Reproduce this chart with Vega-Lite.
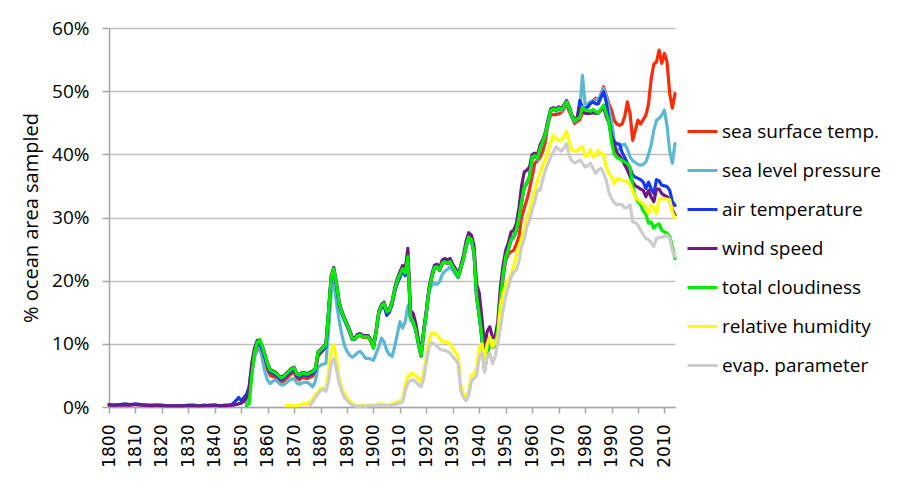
{
  "$schema": "https://vega.github.io/schema/vega-lite/v6.json",
  "autosize": {"type": "none"},
  "padding": {"left": 109, "top": 28, "right": 225, "bottom": 88},
  "width": 566,
  "height": 379,
  "background": "white",
  "config": {"view": {"stroke": null}, "font": "Open Sans"},
  "data": {"values": [
    {"year":1800,"at":0.4,"ws":0.3},{"year":1802,"at":0.3,"ws":0.3},{"year":1804,"at":0.4,"ws":0.3},{"year":1806,"at":0.5,"ws":0.3},{"year":1808,"at":0.4,"ws":0.3},{"year":1810,"at":0.5,"ws":0.4},{"year":1812,"at":0.4,"ws":0.3},{"year":1814,"at":0.3,"ws":0.3},{"year":1816,"at":0.3,"ws":0.2},{"year":1818,"at":0.3,"ws":0.3},{"year":1820,"at":0.3,"ws":0.2},{"year":1822,"at":0.2,"ws":0.2},{"year":1824,"at":0.2,"ws":0.2},{"year":1826,"at":0.2,"ws":0.2},{"year":1828,"at":0.2,"ws":0.2},{"year":1830,"at":0.3,"ws":0.2},{"year":1832,"at":0.3,"ws":0.2},{"year":1834,"at":0.2,"ws":0.2},{"year":1836,"at":0.3,"ws":0.2},{"year":1838,"at":0.2,"ws":0.3},{"year":1840,"at":0.3,"ws":0.3},{"year":1842,"at":0.2,"ws":0.2},{"year":1844,"at":0.3,"ws":0.2},{"year":1846,"at":0.3,"ws":0.3},{"year":1847,"at":0.6,"ws":0.3},{"year":1848,"at":1.0,"ws":0.4},{"year":1849,"at":1.5,"ws":0.5},{"year":1850,"at":1.0,"ws":0.6},{"year":1851,"at":1.5,"ws":0.9},
    {"year":1852,"sst":0.5,"slp":0.3,"at":2.0,"ws":1.5,"tc":0.2},
    {"year":1853,"sst":2,"slp":2,"at":3.2,"ws":3,"tc":0.5},
    {"year":1854,"sst":5.5,"slp":5.5,"at":6.5,"ws":7,"tc":5},
    {"year":1855,"sst":8,"slp":8,"at":8.8,"ws":9.3,"tc":8.5},
    {"year":1856,"sst":9,"slp":9.3,"at":9.8,"ws":10.5,"tc":10.2},
    {"year":1857,"sst":9.2,"slp":9.5,"at":10,"ws":10.6,"tc":10.7},
    {"year":1858,"sst":8.3,"slp":7.5,"at":9,"ws":9.6,"tc":9.5},
    {"year":1859,"sst":7,"slp":5.5,"at":7.7,"ws":8.3,"tc":8.2},
    {"year":1860,"sst":5.8,"slp":4.2,"at":6.4,"ws":6.9,"tc":6.8},
    {"year":1861,"sst":5,"slp":3.7,"at":5.5,"ws":5.9,"tc":5.8},
    {"year":1862,"sst":4.8,"slp":4.1,"at":5.3,"ws":5.7,"tc":5.6},
    {"year":1863,"sst":4.7,"slp":4.3,"at":5.1,"ws":5.5,"tc":5.4},
    {"year":1864,"sst":4.3,"slp":3.9,"at":4.7,"ws":5.1,"tc":5.0},
    {"year":1865,"sst":3.9,"slp":3.5,"at":4.3,"ws":4.7,"tc":4.6},
    {"year":1866,"sst":4.1,"slp":3.5,"at":4.5,"ws":4.9,"tc":4.8},
    {"year":1867,"sst":4.5,"slp":3.8,"at":4.9,"ws":5.3,"tc":5.2,"rh":0.2},
    {"year":1868,"sst":4.9,"slp":4.2,"at":5.3,"ws":5.7,"tc":5.6,"rh":0.3},
    {"year":1869,"sst":5.3,"slp":4.4,"at":5.7,"ws":6.1,"tc":6.0,"rh":0.2},
    {"year":1870,"sst":5.5,"slp":4.5,"at":5.9,"ws":6.3,"tc":6.2,"rh":0.2},
    {"year":1871,"sst":4.5,"slp":3.8,"at":4.9,"ws":5.3,"tc":5.2,"rh":0.2},
    {"year":1872,"sst":4.3,"slp":3.6,"at":4.7,"ws":5.1,"tc":5.0,"rh":0.3},
    {"year":1873,"sst":4.7,"slp":3.8,"at":5.1,"ws":5.5,"tc":5.4,"rh":0.5},
    {"year":1874,"sst":4.6,"slp":3.9,"at":5.0,"ws":5.4,"tc":5.3,"rh":0.5},
    {"year":1875,"sst":4.5,"slp":3.9,"at":4.9,"ws":5.3,"tc":5.2,"rh":0.6},
    {"year":1876,"sst":4.7,"slp":3.6,"at":5.1,"ws":5.5,"tc":5.4,"rh":0.8,"ev":0.3},
    {"year":1877,"sst":4.9,"slp":3.2,"at":5.3,"ws":5.7,"tc":5.6,"rh":1.2,"ev":0.8},
    {"year":1878,"sst":5.3,"slp":4.0,"at":5.7,"ws":6.1,"tc":6.0,"rh":2.0,"ev":1.5},
    {"year":1879,"sst":8.0,"slp":6.3,"at":8.3,"ws":8.7,"tc":8.6,"rh":2.3,"ev":2.0},
    {"year":1880,"sst":8.5,"slp":6.6,"at":8.7,"ws":9.1,"tc":9.0,"rh":3.0,"ev":2.6},
    {"year":1881,"sst":9.0,"slp":6.8,"at":9.1,"ws":9.5,"tc":9.4,"rh":3.0,"ev":2.8},
    {"year":1882,"sst":9.4,"slp":6.9,"at":9.5,"ws":9.9,"tc":9.8,"rh":2.8,"ev":2.5},
    {"year":1883,"sst":14.8,"slp":12,"at":14.8,"ws":15.2,"tc":15,"rh":5.5,"ev":4},
    {"year":1884,"sst":20.3,"slp":18,"at":20.3,"ws":20.8,"tc":20.5,"rh":9,"ev":6.8},
    {"year":1885,"sst":21.8,"slp":20.1,"at":21.6,"ws":22.1,"tc":21.9,"rh":9.8,"ev":7.7},
    {"year":1886,"sst":19.4,"slp":16.5,"at":19.2,"ws":19.7,"tc":19.5,"rh":7.5,"ev":6},
    {"year":1887,"sst":16.4,"slp":13.8,"at":16.2,"ws":16.7,"tc":16.5,"rh":4.5,"ev":3.8},
    {"year":1888,"sst":14.9,"slp":11.5,"at":14.8,"ws":15.2,"tc":15,"rh":3,"ev":2.5},
    {"year":1889,"sst":13.9,"slp":9.8,"at":13.8,"ws":14.2,"tc":14,"rh":2,"ev":1.5},
    {"year":1890,"sst":12.9,"slp":8.8,"at":12.8,"ws":13.2,"tc":13,"rh":1.5,"ev":1},
    {"year":1891,"sst":11.9,"slp":8.2,"at":11.8,"ws":12.2,"tc":12,"rh":1,"ev":0.6},
    {"year":1892,"sst":10.7,"slp":7.9,"at":10.7,"ws":11,"tc":10.8,"rh":0.6,"ev":0.3},
    {"year":1893,"sst":10.7,"slp":8.2,"at":10.8,"ws":11,"tc":10.8,"rh":0.3,"ev":0.2},
    {"year":1894,"sst":11.2,"slp":8.6,"at":11.4,"ws":11.5,"tc":11.3,"rh":0.2,"ev":0.1},
    {"year":1895,"sst":11.3,"slp":8.8,"at":11.6,"ws":11.6,"tc":11.4,"rh":0.2,"ev":0.1},
    {"year":1896,"sst":11.0,"slp":8.3,"at":11.3,"ws":11.3,"tc":11.1,"rh":0.3,"ev":0.2},
    {"year":1897,"sst":11.0,"slp":7.7,"at":11.2,"ws":11.3,"tc":11.1,"rh":0.2,"ev":0.1},
    {"year":1898,"sst":11.0,"slp":7.7,"at":11.2,"ws":11.3,"tc":11.1,"rh":0.3,"ev":0.2},
    {"year":1899,"sst":10.4,"slp":7.6,"at":10.6,"ws":10.7,"tc":10.5,"rh":0.3,"ev":0.2},
    {"year":1900,"sst":9.3,"slp":7.4,"at":9.5,"ws":9.6,"tc":9.4,"rh":0.3,"ev":0.2},
    {"year":1901,"sst":11.8,"slp":8.5,"at":12,"ws":12.2,"tc":12,"rh":0.3,"ev":0.2},
    {"year":1902,"sst":14.8,"slp":9.5,"at":14.8,"ws":15.2,"tc":15,"rh":0.5,"ev":0.3},
    {"year":1903,"sst":15.8,"slp":10.9,"at":15.8,"ws":16.2,"tc":16,"rh":0.5,"ev":0.3},
    {"year":1904,"sst":16.2,"slp":10.3,"at":16,"ws":16.6,"tc":16.4,"rh":0.4,"ev":0.2},
    {"year":1905,"sst":14.9,"slp":9,"at":14.5,"ws":15.3,"tc":15.1,"rh":0.3,"ev":0.2},
    {"year":1906,"sst":15.1,"slp":8.3,"at":15,"ws":15.5,"tc":15.3,"rh":0.3,"ev":0.2},
    {"year":1907,"sst":16.3,"slp":8,"at":16.2,"ws":16.7,"tc":16.5,"rh":0.5,"ev":0.3},
    {"year":1908,"sst":18.3,"slp":9.5,"at":18.2,"ws":18.8,"tc":18.5,"rh":0.6,"ev":0.4},
    {"year":1909,"sst":19.8,"slp":11.5,"at":19.6,"ws":20.3,"tc":20,"rh":0.8,"ev":0.5},
    {"year":1910,"sst":20.8,"slp":13.5,"at":20.5,"ws":21.4,"tc":21,"rh":1,"ev":0.6},
    {"year":1911,"sst":21.7,"slp":12.5,"at":21.5,"ws":22.4,"tc":21.9,"rh":1.2,"ev":0.8},
    {"year":1912,"sst":21,"slp":13.5,"at":20.8,"ws":21.8,"tc":21.2,"rh":3.5,"ev":2.5},
    {"year":1913,"sst":23.6,"slp":16,"at":23.6,"ws":25.1,"tc":23.8,"rh":4.8,"ev":3.8},
    {"year":1914,"sst":14.2,"slp":13.8,"at":14.3,"ws":15.3,"tc":14.3,"rh":5.2,"ev":4.2},
    {"year":1915,"sst":13.4,"slp":13.2,"at":13.5,"ws":14.8,"tc":13.5,"rh":5.3,"ev":4.3},
    {"year":1916,"sst":12.1,"slp":12,"at":12.2,"ws":13.2,"tc":12.2,"rh":4.9,"ev":4},
    {"year":1917,"sst":9.9,"slp":9.9,"at":10,"ws":10.7,"tc":10,"rh":4.5,"ev":3.5},
    {"year":1918,"sst":8.1,"slp":8.1,"at":8.1,"ws":8.5,"tc":8.1,"rh":4,"ev":3.2},
    {"year":1919,"sst":11.9,"slp":11.8,"at":12,"ws":12.3,"tc":12,"rh":5.5,"ev":4.5},
    {"year":1920,"sst":14.9,"slp":14.8,"at":15,"ws":15.4,"tc":15,"rh":8,"ev":7},
    {"year":1921,"sst":18.4,"slp":18.3,"at":18.5,"ws":18.9,"tc":18.5,"rh":10.5,"ev":9.5},
    {"year":1922,"sst":20.4,"slp":19.3,"at":20.5,"ws":20.9,"tc":20.5,"rh":11.7,"ev":10.2},
    {"year":1923,"sst":21.9,"slp":19.6,"at":22,"ws":22.4,"tc":22.1,"rh":11.6,"ev":10},
    {"year":1924,"sst":22.1,"slp":19.4,"at":22.2,"ws":22.6,"tc":22.2,"rh":11.5,"ev":9.6},
    {"year":1925,"sst":21.6,"slp":19.8,"at":21.7,"ws":22.1,"tc":21.7,"rh":10.8,"ev":9.2},
    {"year":1926,"sst":22.7,"slp":21,"at":22.8,"ws":23.3,"tc":22.8,"rh":10.3,"ev":9},
    {"year":1927,"sst":22.9,"slp":21.5,"at":23,"ws":23.5,"tc":23,"rh":10.3,"ev":9},
    {"year":1928,"sst":22.7,"slp":21.8,"at":22.8,"ws":23.3,"tc":22.8,"rh":10.3,"ev":8.8},
    {"year":1929,"sst":22.9,"slp":22.2,"at":23,"ws":23.5,"tc":23,"rh":10,"ev":8.5},
    {"year":1930,"sst":22.1,"slp":21.6,"at":22.2,"ws":22.6,"tc":22.2,"rh":9.3,"ev":8},
    {"year":1931,"sst":21.4,"slp":21,"at":21.5,"ws":21.9,"tc":21.5,"rh":8.7,"ev":7.5},
    {"year":1932,"sst":20.5,"slp":20.5,"at":20.6,"ws":21,"tc":20.6,"rh":8,"ev":6.8},
    {"year":1933,"sst":21.9,"slp":21.8,"at":22,"ws":22.4,"tc":22,"rh":3.5,"ev":2.5},
    {"year":1934,"sst":23.4,"slp":23.3,"at":23.5,"ws":24,"tc":23.5,"rh":2,"ev":1.5},
    {"year":1935,"sst":25.4,"slp":25.3,"at":25.5,"ws":26.2,"tc":25.5,"rh":1.4,"ev":1},
    {"year":1936,"sst":26.8,"slp":26.7,"at":26.9,"ws":27.6,"tc":26.9,"rh":2.5,"ev":1.8},
    {"year":1937,"sst":26.4,"slp":26.3,"at":26.5,"ws":27.2,"tc":26.5,"rh":5,"ev":4},
    {"year":1938,"sst":24.4,"slp":24.3,"at":24.5,"ws":25.6,"tc":24.5,"rh":5.3,"ev":4.5},
    {"year":1939,"sst":17.4,"slp":17.3,"at":17.5,"ws":19.5,"tc":17.5,"rh":6,"ev":5},
    {"year":1940,"sst":14.4,"slp":14.3,"at":14.5,"ws":18,"tc":14.5,"rh":9.5,"ev":7.8},
    {"year":1941,"sst":10.9,"slp":10.8,"at":11,"ws":14,"tc":11,"rh":10,"ev":8.5},
    {"year":1942,"sst":6,"slp":6,"at":6,"ws":9.5,"tc":6,"rh":7.5,"ev":5.5},
    {"year":1943,"sst":8.4,"slp":8.4,"at":8.5,"ws":12,"tc":8.5,"rh":10,"ev":8},
    {"year":1944,"sst":10.4,"slp":10.4,"at":10.5,"ws":12.7,"tc":10.5,"rh":11.1,"ev":8.5},
    {"year":1945,"sst":9.4,"slp":9.4,"at":9.5,"ws":11,"tc":9.5,"rh":9.5,"ev":6.9},
    {"year":1946,"sst":9.7,"slp":9.7,"at":9.8,"ws":11.1,"tc":9.8,"rh":10.2,"ev":8},
    {"year":1947,"sst":12,"slp":12,"at":12.2,"ws":13.5,"tc":12.2,"rh":11.1,"ev":10.1},
    {"year":1948,"sst":16.5,"slp":16.8,"at":17,"ws":19,"tc":17,"rh":15.9,"ev":12.5},
    {"year":1949,"sst":20.5,"slp":20.8,"at":21,"ws":22.5,"tc":21,"rh":18,"ev":15.3},
    {"year":1950,"sst":23.2,"slp":23.6,"at":23.8,"ws":24.8,"tc":23.8,"rh":19.3,"ev":17.5},
    {"year":1951,"sst":24.2,"slp":24.8,"at":25,"ws":26,"tc":25,"rh":20.1,"ev":19},
    {"year":1952,"sst":24.6,"slp":26.3,"at":26.5,"ws":27.7,"tc":26.5,"rh":21,"ev":20.5},
    {"year":1953,"sst":24.8,"slp":26.8,"at":27,"ws":28,"tc":27,"rh":22.2,"ev":21.3},
    {"year":1954,"sst":25.8,"slp":27.8,"at":28,"ws":29,"tc":28,"rh":24,"ev":21.7},
    {"year":1955,"sst":27,"slp":29.8,"at":30,"ws":31.5,"tc":30,"rh":25.4,"ev":23},
    {"year":1956,"sst":30,"slp":32.3,"at":32.5,"ws":35,"tc":32.5,"rh":26.7,"ev":25.4},
    {"year":1957,"sst":31.5,"slp":34.7,"at":34.9,"ws":37.2,"tc":34.9,"rh":28,"ev":26.5},
    {"year":1958,"sst":32.8,"slp":35.3,"at":35.5,"ws":37.5,"tc":35.5,"rh":29.8,"ev":28.5},
    {"year":1959,"sst":34.5,"slp":36.3,"at":36.5,"ws":38,"tc":36.5,"rh":31.2,"ev":29.5},
    {"year":1960,"sst":36.5,"slp":39.4,"at":39.6,"ws":40,"tc":39.6,"rh":32.8,"ev":31.2},
    {"year":1961,"sst":38.6,"slp":39.6,"at":39.8,"ws":40.2,"tc":39.8,"rh":34.3,"ev":32.5},
    {"year":1962,"sst":39,"slp":39.2,"at":39.4,"ws":40,"tc":39.4,"rh":35.8,"ev":34.3},
    {"year":1963,"sst":39.5,"slp":40.8,"at":41,"ws":41.5,"tc":41,"rh":37,"ev":34.3},
    {"year":1964,"sst":40.5,"slp":41.8,"at":42,"ws":42.3,"tc":42,"rh":38.2,"ev":36},
    {"year":1965,"sst":42,"slp":43.1,"at":43.3,"ws":43.5,"tc":43.3,"rh":39.1,"ev":37.5},
    {"year":1966,"sst":45,"slp":44.8,"at":45,"ws":45.5,"tc":45,"rh":40.5,"ev":38.5},
    {"year":1967,"sst":46.2,"slp":46.8,"at":47,"ws":47.2,"tc":47,"rh":41.8,"ev":39.6},
    {"year":1968,"sst":46.3,"slp":47,"at":47.2,"ws":47.4,"tc":47.2,"rh":43,"ev":40.3},
    {"year":1969,"sst":46.3,"slp":46.8,"at":47,"ws":47.2,"tc":47,"rh":42.5,"ev":41.2},
    {"year":1970,"sst":46.4,"slp":47.1,"at":47.3,"ws":47.5,"tc":47.3,"rh":42.2,"ev":40.8},
    {"year":1971,"sst":46.6,"slp":46.9,"at":47.1,"ws":47.3,"tc":47.1,"rh":42.2,"ev":40.5},
    {"year":1972,"sst":47.2,"slp":47.4,"at":47.6,"ws":47.8,"tc":47.6,"rh":42.8,"ev":41},
    {"year":1973,"sst":48,"slp":48.1,"at":48.3,"ws":48.5,"tc":48.3,"rh":43.6,"ev":41.7},
    {"year":1974,"sst":46.8,"slp":47.3,"at":47.5,"ws":47.6,"tc":47.5,"rh":42,"ev":39.8},
    {"year":1975,"sst":45.9,"slp":45.8,"at":46,"ws":46.2,"tc":46,"rh":40.7,"ev":39},
    {"year":1976,"sst":44.9,"slp":45.2,"at":45.4,"ws":45.6,"tc":45.4,"rh":40.5,"ev":38.6},
    {"year":1977,"sst":45.2,"slp":45.5,"at":45.6,"ws":45.8,"tc":45.6,"rh":40.5,"ev":38.8},
    {"year":1978,"sst":45.5,"slp":47,"at":48.5,"ws":47.3,"tc":45.8,"rh":41,"ev":39.1},
    {"year":1979,"sst":46.5,"slp":52.5,"at":47.5,"ws":46.8,"tc":47.5,"rh":41.2,"ev":38.6},
    {"year":1980,"sst":47.1,"slp":48,"at":47.3,"ws":46.5,"tc":47,"rh":39.8,"ev":38},
    {"year":1981,"sst":47.5,"slp":48,"at":47.5,"ws":46.5,"tc":47,"rh":39.8,"ev":38.2},
    {"year":1982,"sst":48.3,"slp":48.3,"at":48,"ws":46.5,"tc":46.8,"rh":40.7,"ev":38.6},
    {"year":1983,"sst":48.5,"slp":48.4,"at":48.3,"ws":46.6,"tc":47.1,"rh":39.6,"ev":37.8},
    {"year":1984,"sst":48.9,"slp":48.6,"at":48,"ws":46.5,"tc":46.8,"rh":39.8,"ev":37},
    {"year":1985,"sst":48.5,"slp":48.9,"at":48,"ws":46.5,"tc":46.5,"rh":40.6,"ev":37.5},
    {"year":1986,"sst":49.5,"slp":49.3,"at":49,"ws":47,"tc":47.2,"rh":40.2,"ev":37.8},
    {"year":1987,"sst":50.7,"slp":50.5,"at":49.9,"ws":47.5,"tc":47.8,"rh":39.9,"ev":37},
    {"year":1988,"sst":49.4,"slp":49.2,"at":48.3,"ws":46,"tc":46.5,"rh":38,"ev":35.9},
    {"year":1989,"sst":48,"slp":47.3,"at":45.4,"ws":45,"tc":45.1,"rh":37,"ev":34},
    {"year":1990,"sst":47,"slp":45.4,"at":43,"ws":42.8,"tc":42,"rh":36.4,"ev":33},
    {"year":1991,"sst":45.4,"slp":42.2,"at":42,"ws":41.5,"tc":40,"rh":35.4,"ev":32.4},
    {"year":1992,"sst":44.8,"slp":40.5,"at":41.7,"ws":40.3,"tc":39.5,"rh":36.1,"ev":32},
    {"year":1993,"sst":44.6,"slp":40.8,"at":41.6,"ws":39.8,"tc":39.3,"rh":36.1,"ev":32.1},
    {"year":1994,"sst":44.8,"slp":41.5,"at":40.3,"ws":39.2,"tc":39,"rh":35.9,"ev":32},
    {"year":1995,"sst":46,"slp":41.6,"at":39.5,"ws":38.3,"tc":38.8,"rh":35.8,"ev":31.5},
    {"year":1996,"sst":48.3,"slp":40.8,"at":38.6,"ws":37.5,"tc":38.5,"rh":35.7,"ev":31.6},
    {"year":1997,"sst":46.5,"slp":39.6,"at":37.8,"ws":36.5,"tc":38,"rh":35.2,"ev":32},
    {"year":1998,"sst":42.2,"slp":39,"at":36.7,"ws":35.6,"tc":35,"rh":34.3,"ev":29.3},
    {"year":1999,"sst":43.8,"slp":38.7,"at":36.4,"ws":35,"tc":33.2,"rh":33.2,"ev":29.2},
    {"year":2000,"sst":45.4,"slp":38.4,"at":36.2,"ws":34.8,"tc":32.5,"rh":32.8,"ev":28.8},
    {"year":2001,"sst":44.8,"slp":38.3,"at":36,"ws":34.5,"tc":32,"rh":32.5,"ev":28},
    {"year":2002,"sst":45.5,"slp":38.4,"at":35.6,"ws":34.3,"tc":31,"rh":32.1,"ev":27.3},
    {"year":2003,"sst":46.2,"slp":38.8,"at":34.6,"ws":33.3,"tc":30.5,"rh":31.7,"ev":26.7},
    {"year":2004,"sst":48,"slp":40,"at":35.6,"ws":34.3,"tc":29.1,"rh":30.6,"ev":26.5},
    {"year":2005,"sst":52,"slp":41.5,"at":34.5,"ws":33.2,"tc":29.3,"rh":32,"ev":26},
    {"year":2006,"sst":54.3,"slp":43.8,"at":33.8,"ws":32.5,"tc":28.3,"rh":31.5,"ev":25.4},
    {"year":2007,"sst":54.6,"slp":45.4,"at":36,"ws":34.5,"tc":28.8,"rh":30.6,"ev":26.7},
    {"year":2008,"sst":56.5,"slp":45.7,"at":35.8,"ws":34.5,"tc":29,"rh":32.8,"ev":26.8},
    {"year":2009,"sst":54.4,"slp":46.2,"at":35.1,"ws":33.8,"tc":28,"rh":33,"ev":26.9},
    {"year":2010,"sst":56,"slp":47,"at":35,"ws":33.5,"tc":27.7,"rh":33,"ev":27},
    {"year":2011,"sst":54.6,"slp":44.5,"at":34.9,"ws":33.3,"tc":27.5,"rh":32.9,"ev":27.2},
    {"year":2012,"sst":49.6,"slp":40.5,"at":34.3,"ws":32.7,"tc":27,"rh":32.8,"ev":26.7},
    {"year":2013,"sst":47.3,"slp":38.6,"at":32.5,"ws":31.2,"tc":25.4,"rh":30.9,"ev":24.8},
    {"year":2014,"sst":49.6,"slp":41.7,"at":31.9,"ws":30.4,"tc":23.5,"rh":29.9,"ev":23.8}
  ]},
  "transform": [{"fold": ["sst","slp","at","ws","tc","rh","ev"], "as": ["series","value"]}],
  "encoding": {
    "x": {"field": "year", "type": "quantitative",
      "scale": {"domain": [1800, 2014], "nice": false, "zero": false},
      "axis": {"values": [1800,1810,1820,1830,1840,1850,1860,1870,1880,1890,1900,1910,1920,1930,1940,1950,1960,1970,1980,1990,2000,2010],
        "format": "d", "labelAngle": -90, "title": null, "grid": false,
        "labelFont": "DejaVu Sans", "labelFontSize": 17, "labelColor": "black", "labelPadding": 11,
        "domainColor": "#a6a6a6", "domainWidth": 1.5, "tickColor": "#a6a6a6", "tickWidth": 1.5, "tickSize": 6,
        "labelOverlap": false, "labelFlush": false}},
    "y": {"field": "value", "type": "quantitative",
      "scale": {"domain": [0, 60], "nice": false},
      "axis": {"values": [0,10,20,30,40,50,60], "labelExpr": "datum.value + '%'",
        "title": "% ocean area sampled", "titleFont": "Open Sans", "titleFontSize": 20, "titleFontWeight": "normal", "titleColor": "black", "titlePadding": 10,
        "labelFont": "Open Sans", "labelFontSize": 19, "labelColor": "black", "labelPadding": 13,
        "grid": true, "gridColor": "#bfbfbf", "gridWidth": 1.5,
        "domainColor": "#a6a6a6", "domainWidth": 1.5, "tickColor": "#a6a6a6", "tickWidth": 1.5, "tickSize": 7}},
    "color": {"field": "series", "type": "nominal",
      "scale": {"domain": ["sst","slp","at","ws","tc","rh","ev"],
        "range": ["#ff2b06","#5cb7d3","#1438f5","#6e1a80","#00ee00","#ffff00","#cccccc"]},
      "legend": {"orient": "none", "legendX": 577, "legendY": 87, "title": null,
        "labelExpr": "{'sst':'sea surface temp.','slp':'sea level pressure','at':'air temperature','ws':'wind speed','tc':'total cloudiness','rh':'relative humidity','ev':'evap. parameter'}[datum.label]",
        "symbolType": "stroke", "symbolSize": 900, "symbolStrokeWidth": 3,
        "labelFont": "Open Sans", "labelFontSize": 19, "labelColor": "black", "labelOffset": 3, "rowPadding": 12, "labelLimit": 300}}
  },
  "layer": [
    {"transform": [{"filter": "datum.series === 'sst'"}], "mark": {"type": "line", "strokeWidth": 3.2, "strokeJoin": "round", "strokeCap": "round"}},
    {"transform": [{"filter": "datum.series === 'slp'"}], "mark": {"type": "line", "strokeWidth": 3.2, "strokeJoin": "round", "strokeCap": "round"}},
    {"transform": [{"filter": "datum.series === 'at'"}], "mark": {"type": "line", "strokeWidth": 3.2, "strokeJoin": "round", "strokeCap": "round"}},
    {"transform": [{"filter": "datum.series === 'ws'"}], "mark": {"type": "line", "strokeWidth": 3.2, "strokeJoin": "round", "strokeCap": "round"}},
    {"transform": [{"filter": "datum.series === 'tc'"}], "mark": {"type": "line", "strokeWidth": 3.2, "strokeJoin": "round", "strokeCap": "round"}},
    {"transform": [{"filter": "datum.series === 'rh'"}], "mark": {"type": "line", "strokeWidth": 3.2, "strokeJoin": "round", "strokeCap": "round"}},
    {"transform": [{"filter": "datum.series === 'ev'"}], "mark": {"type": "line", "strokeWidth": 3.2, "strokeJoin": "round", "strokeCap": "round"}}
  ]
}
